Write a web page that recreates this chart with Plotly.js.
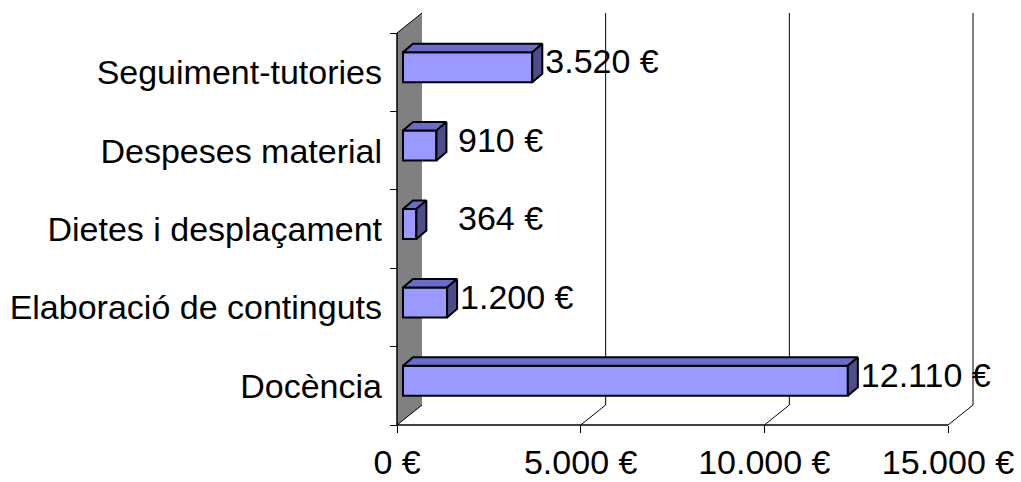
<!DOCTYPE html>
<html>
<head>
<meta charset="utf-8">
<script src="https://cdn.plot.ly/plotly-3.0.1.min.js"></script>
<style>html,body{margin:0;padding:0;background:#fff;}#chart{width:1021px;height:482px;}</style>
</head>
<body>
<div id="chart"></div>
<script>
// ---- data ----
const categories = ['Docència', 'Elaboració de continguts', 'Dietes i desplaçament', 'Despeses material', 'Seguiment-tutories'];
const values = [12110, 1200, 364, 910, 3520];
const valueLabels = ['12.110 €', '1.200 €', '364 €', '910 €', '3.520 €'];
const xTickVals = [0, 5000, 10000, 15000];
const xTickText = ['0 €', '5.000 €', '10.000 €', '15.000 €'];

// ---- geometry (pixels) ----
const W = 1021, H = 482;
const PL = 390, PR = 990, PT = 10, PB = 428;   // plot area
const X0 = 397, X15 = 948;                      // front floor: 0 and 15000
const YB = 425, YT = 33;                        // front category span
const kx = (X15 - X0) / 15000;
const ky = (YB - YT) / categories.length;
const px2x = p => p / kx;
const px2y = p => p / ky;
const nCat = categories.length;
const xr = [(PL - X0) / kx, (PR - X0) / kx];
const yr = [-0.5 - (PB - YB) / ky, nCat - 0.5 + (YT - PT) / ky];

const wallD = {x: px2x(25), y: px2y(20)};
const barFront = {x: px2x(6), y: px2y(5)};
const barDepth = {x: px2x(10), y: px2y(8.5)};
const barW = px2y(30);
const barOff = -barW / 2 + barFront.y;
const labelPad = px2x(3);
const labelMin = px2x(61);

const font = 'Liberation Sans, Arial, sans-serif';
const idx = categories.map((c, i) => i);

// faces
const topX = [], topY = [], sideX = [], sideY = [];
const labX = [], labY = [];
values.forEach((v, i) => {
  const x0 = barFront.x, x1 = barFront.x + v;
  const yB = i + barOff, yT = i + barOff + barW;
  topX.push(x0, x1, x1 + barDepth.x, x0 + barDepth.x, x0, null);
  topY.push(yT, yT, yT + barDepth.y, yT + barDepth.y, yT, null);
  sideX.push(x1, x1, x1 + barDepth.x, x1 + barDepth.x, x1, null);
  sideY.push(yB, yT, yT + barDepth.y, yB + barDepth.y, yB, null);
  labX.push(Math.max(x1 + barDepth.x + labelPad, labelMin));
  labY.push(i + barOff + (barW + barDepth.y) / 2 - px2y(2));
});

const traces = [
  {type: 'bar', orientation: 'h', y: idx, x: values, base: barFront.x,
   width: barW, offset: barOff,
   marker: {color: '#9999FF', line: {color: '#000000', width: 2}}, hoverinfo: 'skip'},
  {type: 'scatter', mode: 'lines', x: topX, y: topY, fill: 'toself', fillcolor: '#6B6BCC',
   line: {color: '#000000', width: 2}, hoverinfo: 'skip'},
  {type: 'scatter', mode: 'lines', x: sideX, y: sideY, fill: 'toself', fillcolor: '#4D4D8A',
   line: {color: '#000000', width: 2}, hoverinfo: 'skip'},
  {type: 'scatter', mode: 'text', x: labX, y: labY, text: valueLabels, textposition: 'middle right',
   textfont: {family: font, size: 34, color: '#000000'}, cliponaxis: false, hoverinfo: 'skip'}
];

const yLo = -0.5, yHi = nCat - 0.5;
const shapes = [
  // side wall
  {type: 'path', layer: 'below', xref: 'x', yref: 'y',
   path: `M 0,${yLo} L 0,${yHi} L ${wallD.x},${yHi + wallD.y} L ${wallD.x},${yLo + wallD.y} Z`,
   fillcolor: '#808080', line: {width: 0}},
  {type: 'line', layer: 'above', xref: 'x', yref: 'y', x0: 0, y0: yLo, x1: 0, y1: yHi, line: {color: '#000', width: 1.5}},
  {type: 'line', layer: 'below', xref: 'x', yref: 'y', x0: 0, y0: yHi, x1: wallD.x, y1: yHi + wallD.y, line: {color: '#000', width: 1}},
  {type: 'line', layer: 'below', xref: 'x', yref: 'y', x0: 0, y0: yLo, x1: wallD.x, y1: yLo + wallD.y, line: {color: '#000', width: 1}},
  // floor front edge
  {type: 'line', layer: 'below', xref: 'x', yref: 'y', x0: 0, y0: yLo, x1: xTickVals[xTickVals.length - 1], y1: yLo, line: {color: '#000', width: 1.5}}
];
xTickVals.slice(1).forEach(t => {
  shapes.push({type: 'line', layer: 'below', xref: 'x', yref: 'y', x0: t, y0: yLo, x1: t + wallD.x, y1: yLo + wallD.y, line: {color: '#000', width: 1}});
  shapes.push({type: 'line', layer: 'below', xref: 'x', yref: 'y', x0: t + wallD.x, y0: yLo + wallD.y, x1: t + wallD.x, y1: yHi + wallD.y, line: {color: '#000', width: 1}});
});

const layout = {
  width: W, height: H,
  margin: {l: PL, r: W - PR, t: PT, b: H - PB, pad: 0},
  paper_bgcolor: '#ffffff', plot_bgcolor: 'rgba(0,0,0,0)',
  showlegend: false,
  font: {family: font, size: 34, color: '#000000'},
  xaxis: {range: xr, anchor: 'free', position: (PB - YB) / (PB - PT),
    tickmode: 'array', tickvals: xTickVals, ticktext: xTickText,
    ticks: 'outside', ticklen: 7, tickwidth: 1, tickcolor: '#000',
    showgrid: false, zeroline: false, showline: false,
    tickfont: {family: font, size: 34, color: '#000'}, fixedrange: true},
  yaxis: {range: yr, anchor: 'free', position: (X0 - PL) / (PR - PL),
    tickmode: 'array', tickvals: idx, ticktext: categories, ticks: '',
    ticklabelstandoff: 15,
    minor: {tick0: -0.5, dtick: 1, ticks: 'outside', ticklen: 7, tickwidth: 1, tickcolor: '#000', showgrid: false},
    showgrid: false, zeroline: false, showline: false,
    tickfont: {family: font, size: 34, color: '#000'}, fixedrange: true},
  shapes: shapes
};

Plotly.newPlot('chart', traces, layout, {displayModeBar: false, staticPlot: true});
</script>
</body>
</html>
